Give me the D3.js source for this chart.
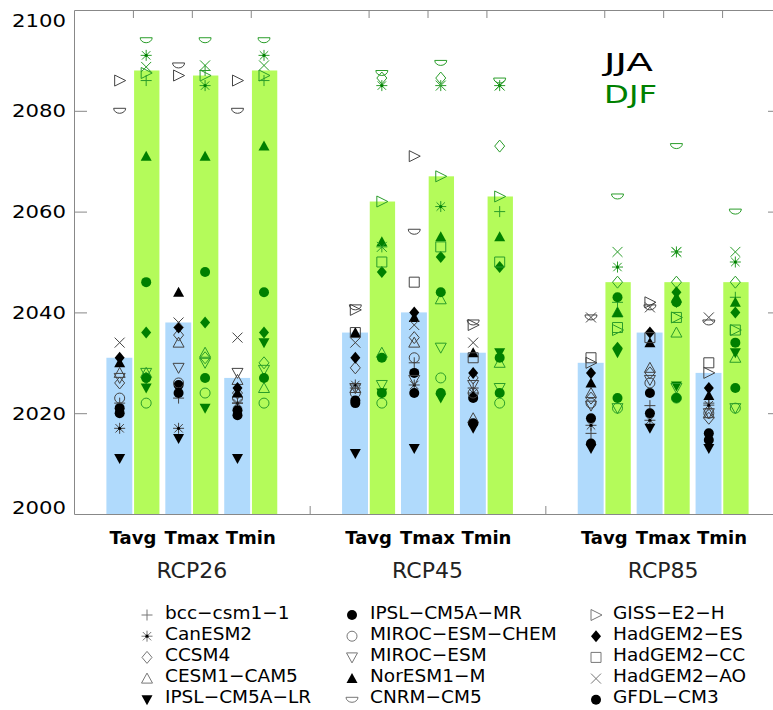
<!DOCTYPE html>
<html>
<head>
<meta charset="utf-8">
<script src="https://cdn.jsdelivr.net/npm/d3@7"></script>
<style>
  body { margin: 0; background: #fff; }
  svg { display: block; }
  text { font-family: "DejaVu Sans", sans-serif; }
</style>
</head>
<body>
<div id="chart"></div>
<script>
// scenarios and variables, bars go RCP26 Tavg, Tmax, Tmin, RCP45 ..., RCP85 ...
const scenarios = ["RCP26", "RCP45", "RCP85"];
const variables = ["Tavg", "Tmax", "Tmin"];

// multi-model year for JJA (blue) and DJF (green)
const jjaBars = [2031, 2038, 2027, 2036, 2040, 2032, 2030, 2036, 2028];
const djfBars = [2088, 2087, 2088, 2062, 2067, 2063, 2046, 2046, 2046];

const models = ["bcc−csm1−1", "CanESM2", "CCSM4", "CESM1−CAM5", "IPSL−CM5A−LR",
                "IPSL−CM5A−MR", "MIROC−ESM−CHEM", "MIROC−ESM", "NorESM1−M", "CNRM−CM5",
                "GISS−E2−H", "HadGEM2−ES", "HadGEM2−CC", "HadGEM2−AO", "GFDL−CM3"];
const shapes = ["plus", "aster", "diamond", "triUp", "triDown",
                "circle", "circle", "triDown", "triUp", "bowl",
                "triRight", "diamond", "square", "cross", "circle"];
const filled = [false, false, false, false, true,
                true, false, false, true, false,
                false, true, false, false, true];

// one row per model, same order as the bars
const jjaYears = [
  [2022, 2023, 2022, 2025, 2030, 2025, 2016, 2021.5, 2022],
  [2017, 2017, 2022, 2025.6, 2025.6, 2024, 2017.6, 2018.6, 2021.6],
  [2026, 2035.5, 2024, 2029, 2035, 2027, 2023, 2028, 2019],
  [2028, 2034, 2026.6, 2025, 2034, 2019, 2024, 2029, 2020],
  [2011, 2015, 2011, 2012, 2013, 2017, 2013, 2017, 2013],
  [2021, 2025.6, 2020.6, 2022, 2028, 2023, 2019, 2024, 2016],
  [2023, 2026, 2023, 2024, 2031, 2024, 2022, 2026, 2020],
  [2027, 2029, 2028, 2025, 2026.6, 2025.6, 2021.5, 2026.6, 2020],
  [2030, 2044, 2024, 2036, 2039, 2032, 2026, 2034, 2023.5],
  [2080, 2089, 2080, 2041, 2056, 2038, 2039, 2041, 2038],
  [2086, 2087, 2086, 2040.5, 2071, 2037.5, 2030, 2042, 2028],
  [2031, 2037, 2025, 2031, 2040, 2028, 2028, 2036, 2025],
  [null, null, null, 2036, 2046, 2031, 2031, 2035, 2030],
  [2034, 2038, 2035, 2034, 2037.5, 2034, 2039, 2041, 2039],
  [2020, 2024, 2019.6, 2022.5, 2024, 2018, 2014, 2020, 2014.7]
];
const djfYears = [
  [2086, 2088, 2086, 2053, 2085, 2060, 2042, 2042, 2043],
  [2091, 2085, 2091, 2085, 2061, 2085, 2049, 2052, 2050],
  [2027, 2031, 2030, 2086.5, 2086.5, 2073, 2046, 2046, 2046],
  [2028, 2032, 2025, 2032, 2042.6, 2030, 2040, 2036, 2031],
  [2025, 2021, 2034, 2024, 2023, 2032, 2032, 2025.4, 2032],
  [2046, 2048, 2044, 2031, 2044, 2031, 2043, 2042, 2034],
  [2022, 2024, 2022, 2022, 2027, 2022, 2021, 2023, 2021],
  [2028, 2030, 2028.6, 2025.6, 2033, 2025, 2021, 2025, 2021],
  [2071, 2071, 2073, 2054, 2055, 2055, 2040, 2043, 2042],
  [2094, 2094, 2094, 2087.5, 2089.5, 2086, 2063, 2073, 2060],
  [2087.5, 2087, 2087, 2062, 2067, 2063, 2036.5, 2039, 2036.5],
  [2036, 2038, 2036, 2048, 2051, 2049, 2033, 2044, 2040],
  [null, null, null, 2050, 2053, 2050, 2037, 2039, 2036.5],
  [2088.7, 2089, 2089, 2053, 2085, 2085, 2052, 2052, 2052],
  [2027, 2027, 2027, 2024, 2024, 2024, 2023, 2023, 2025]
];

const yTicks = [2000, 2020, 2040, 2060, 2080, 2100];

//sizing
const width = 773, height = 710;
const svg = d3.select("#chart").append("svg")
    .attr("width", width)
    .attr("height", height);

const x = d3.scaleLinear().domain([0, 12]).range([74, 781]);
const y = d3.scaleLinear().domain([2000, 2100]).range([514, 10]);

// x position (in axis units) of bar pair i
const pos = i => 1 + Math.floor(i / 3) * 4 + i % 3;
const barIdx = d3.range(9);
const halfW = 0.45; // bar width in axis units

const jjaColor = "#b0dafc", djfColor = "#b4fb5a";
const axisColor = "#888";

//bars
svg.selectAll(".jja")
    .data(barIdx)
    .enter()
    .append("rect")
    .attr("x", i => x(pos(i) - halfW))
    .attr("width", i => x(pos(i) - 0.01) - x(pos(i) - halfW))
    .attr("y", i => y(jjaBars[i]))
    .attr("height", i => y(2000) - y(jjaBars[i]))
    .attr("fill", jjaColor);

svg.selectAll(".djf")
    .data(barIdx)
    .enter()
    .append("rect")
    .attr("x", i => x(pos(i) + 0.02))
    .attr("width", i => x(pos(i) + halfW) - x(pos(i) + 0.02))
    .attr("y", i => y(djfBars[i]))
    .attr("height", i => y(2000) - y(djfBars[i]))
    .attr("fill", djfColor);

//axes
const styleAxis = g => {
    g.selectAll("path, line").attr("stroke", axisColor).attr("stroke-width", 1);
    g.selectAll("text").remove();
};
svg.append("g")
    .attr("transform", `translate(${x(0)},0)`)
    .call(d3.axisLeft(y).tickValues(yTicks.slice(1, -1)).tickSize(-13).tickSizeOuter(0).tickFormat(""))
    .call(styleAxis);
svg.append("g")
    .attr("transform", `translate(${x(12)},0)`)
    .call(d3.axisRight(y).tickValues(yTicks.slice(1, -1)).tickSize(-13).tickSizeOuter(0).tickFormat(""))
    .call(styleAxis);
svg.append("g")
    .attr("transform", `translate(0,${y(2100)})`)
    .call(d3.axisTop(x).tickValues(barIdx.map(pos)).tickSize(-8).tickSizeOuter(0).tickFormat(""))
    .call(styleAxis);
svg.append("g")
    .attr("transform", `translate(0,${y(2000)})`)
    .call(d3.axisBottom(x).tickValues([4, 8]).tickSize(-8).tickSizeOuter(0).tickFormat(""))
    .call(styleAxis);

// y labels (end ones kept inside the frame)
svg.selectAll(".ylab")
    .data(yTicks)
    .enter()
    .append("text")
    .attr("x", 66)
    .attr("y", d => y(d))
    .attr("dy", d => d === 2100 ? "0.95em" : d === 2000 ? "0" : "0.36em")
    .attr("text-anchor", "end")
    .attr("textLength", 54)
    .attr("lengthAdjust", "spacingAndGlyphs")
    .style("font-size", "18px")
    .text(d => d);

// category labels
svg.selectAll(".varlab")
    .data(barIdx)
    .enter()
    .append("text")
    .attr("x", i => x(pos(i)))
    .attr("y", 544)
    .attr("text-anchor", "middle")
    .style("font-size", "18px")
    .style("font-weight", "bold")
    .text(i => variables[i % 3]);

svg.selectAll(".scen")
    .data(scenarios)
    .enter()
    .append("text")
    .attr("x", (d, g) => x(2 + g * 4))
    .attr("y", 578)
    .attr("text-anchor", "middle")
    .style("font-size", "22px")
    .attr("fill", "#222")
    .text(d => d);

// season labels
svg.append("text").attr("x", 604).attr("y", 71)
    .attr("textLength", 49).attr("lengthAdjust", "spacingAndGlyphs")
    .style("font-size", "25px").attr("fill", "#000").text("JJA");
svg.append("text").attr("x", 604).attr("y", 103)
    .attr("textLength", 53).attr("lengthAdjust", "spacingAndGlyphs")
    .style("font-size", "25px").attr("fill", "#008000").text("DJF");

//marker shapes
function shapePath(s) {
    switch (s) {
        case "plus": return "M-5.5,0H5.5M0,-5.5V5.5";
        case "cross": return "M-5,-5L5,5M5,-5L-5,5";
        case "aster": return "M-5.5,0H5.5M0,-5.5V5.5M-4.2,-4.2L4.2,4.2M4.2,-4.2L-4.2,4.2";
        case "diamond": return "M0,-6L5,0L0,6L-5,0Z";
        case "triUp": return "M0,-5.5L5.5,4.5L-5.5,4.5Z";
        case "triDown": return "M-5.5,-4.5L5.5,-4.5L0,5.5Z";
        case "triRight": return "M-5,-5.5L6,0L-5,5.5Z";
        case "square": return "M-5,-5H5V5H-5Z";
        case "circle": return "M5,0A5,5 0 1 1 -5,0A5,5 0 1 1 5,0Z";
        case "bowl": return "M-6,-2.5H6A6,5 0 0 1 -6,-2.5Z";
    }
}

function drawMarker(g, m, cx, cy, solid, open) {
    const p = g.append("path")
        .attr("transform", `translate(${cx},${cy})`)
        .attr("d", shapePath(shapes[m]));
    if (filled[m]) {
        p.attr("fill", solid).attr("stroke", "none");
    } else {
        p.attr("fill", "none").attr("stroke", open).attr("stroke-width", 1);
    }
    if (shapes[m] === "aster") {
        g.append("circle").attr("cx", cx).attr("cy", cy).attr("r", 1.6).attr("fill", solid);
    }
}

const markers = svg.append("g");
models.forEach((name, m) => {
    barIdx.forEach(i => {
        const vj = jjaYears[m][i];
        if (vj != null) drawMarker(markers, m, x(pos(i) - halfW / 2), y(vj), "#000", "#444");
        const vd = djfYears[m][i];
        if (vd != null) drawMarker(markers, m, x(pos(i) + halfW / 2), y(vd), "#008000", "#2a9d2a");
    });
});

//legend
const legCols = [{ sx: 147, tx: 165 }, { sx: 352, tx: 370 }, { sx: 596, tx: 613 }];
const legend = svg.append("g");
models.forEach((name, m) => {
    const c = legCols[Math.floor(m / 5)];
    const cy = 612 + (m % 5) * 21.2;
    drawMarker(legend, m, c.sx, cy + 3, "#000", "#777");
    legend.append("text")
        .attr("x", c.tx)
        .attr("y", cy + 6.5)
        .style("font-size", "18.5px")
        .text(name);
});
</script>
</body>
</html>
